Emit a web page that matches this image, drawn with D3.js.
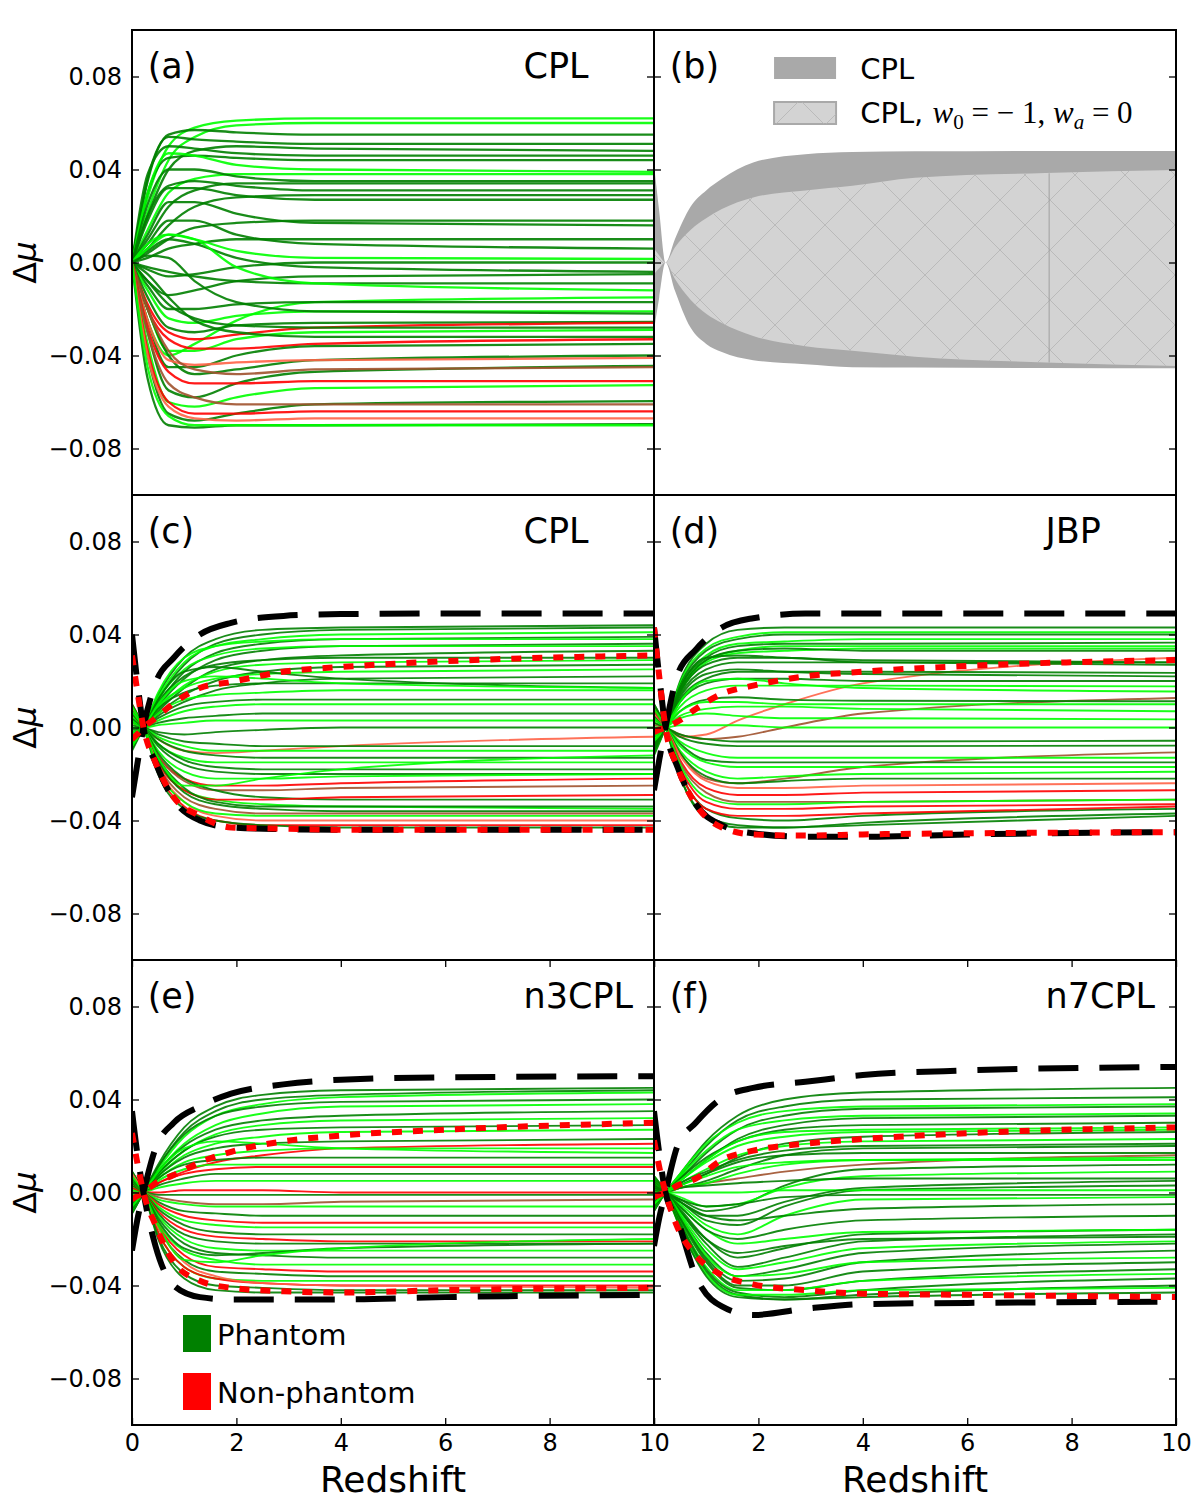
<!DOCTYPE html>
<meta charset="utf-8">
<style>
    body { margin: 0; background: #fff; }
    svg { font-family: "DejaVu Sans", sans-serif; }
</style>
<body>
<script src="https://cdn.jsdelivr.net/npm/d3@7/dist/d3.min.js"></script>
<script>

// ---- data (delta mu in units of 1e-3) ----
var xTicks = [0, 2, 4, 6, 8, 10];
var yTicks = [-0.08, -0.04, 0, 0.04, 0.08];
var panelLetters = ["(a)", "(b)", "(c)", "(d)", "(e)", "(f)"];
var panelTitles = ["CPL", "", "CPL", "JBP", "n3CPL", "n7CPL"];

// panel (a): redshift samples for every curve
var zGridA = [0, 0.3, 0.7, 1.2, 2, 3.5, 10];
var curvesA = [
    ["l",[0,28,50,58,61,62,62]], ["l",[0,22,44,54,59,60,60]], ["g",[0,35,55,57,56,55,55]],
    ["g",[0,36,54,53,52,51,51]], ["g",[0,20,40,48,50,49,48]], ["g",[0,38,50,49,47,46,46]],
    ["g",[0,30,45,46,45,44,44]], ["l",[0,30,47,46,42,40,39]], ["l",[0,14,30,36,38,38,38]],
    ["g",[0,25,40,40,37,35,35]], ["g",[0,10,24,31,34,34,34]], ["g",[0,20,33,35,33,31,31]],
    ["g",[0,6,16,24,28,29,29]], ["g",[0,18,32,32,29,27,27]], ["g",[0,4,10,15,17,18,18]],
    ["g",[0,12,26,26,21,17,16]], ["g",[0,2,6,8,10,10,10]], ["g",[0,8,18,18,12,8,6]],
    ["l",[0,8,12,10,5,2,1.5]], ["g",[0,-3,-6,-5,-2,0,0]], ["g",[0,5,10,8,2,-2,-4]],
    ["g",[0,-8,-14,-12,-8,-6,-5]], ["g",[0,-2,-4,-6,-8,-9,-9]], ["l",[0,6,12,10,-2,-9,-12]],
    ["l",[0,-25,-40,-35,-25,-17,-15]], ["g",[0,-10,-20,-20,-18,-17,-17]], ["l",[0,-12,-24,-26,-23,-21,-21]],
    ["g",[0,3,2,-8,-17,-21,-22]], ["g",[0,-15,-28,-30,-27,-26,-25.5]], ["r",[0,-18,-30,-33,-31,-28,-26]],
    ["g",[0,-8,-18,-24,-27,-28,-28]], ["l",[0,-20,-38,-38,-33,-30,-29]], ["g",[0,-5,-15,-25,-30,-32,-32]],
    ["r",[0,-20,-33,-37,-37,-35,-33]], ["g",[0,-25,-45,-45,-40,-36,-35]], ["g",[0,-20,-40,-48,-46,-42,-40]],
    ["s",[0,-25,-42,-44,-43,-42,-41]], ["g",[0,-30,-55,-58,-52,-47,-44.5]], ["b",[0,-20,-38,-46,-48,-46,-45]],
    ["r",[0,-28,-47,-52,-52,-51,-51]], ["l",[0,-35,-60,-62,-58,-54,-52.7]], ["g",[0,-40,-65,-68,-65,-61,-59.6]],
    ["b",[0,-30,-52,-58,-61,-61,-61]], ["r",[0,-38,-60,-65,-65,-64,-64]], ["s",[0,-40,-62,-67,-68,-67,-67]],
    ["g",[0,-50,-70,-71,-70,-70,-69.5]], ["l",[0,-45,-66,-70,-70,-70,-70]]
];

// panel (b): bands
var zBand = [0, 0.1, 0.22, 0.4, 0.7, 1, 1.3, 1.9, 2.9, 3.8, 5, 7.5, 10];
var bandCplUp = [42, 22, 0, 10, 24, 31, 36, 43, 46.6, 47.5, 47.8, 48, 48];
var bandCplLow = [-29, -15, 0, -12, -28, -35, -38.5, -42, -43.8, -45, -45.2, -45.4, -45.5];
var bandLcdmUp = [6, 3, 0, 6.5, 14, 19, 23, 28, 31, 33, 36.5, 38.5, 39.8];
var bandLcdmLow = [-5, -2.5, 0, -7, -16, -22, -26, -31.6, -36, -38, -40.5, -43, -44.5];
var bandSeam = [7.57, 38.4, -43];

// panels (c)-(f): samples for the curves, and for the envelopes
var zGrid = [0, 0.22, 0.5, 1, 1.6, 2.5, 4, 10];
var zEnv = [0, 0.1, 0.22, 0.45, 0.8, 1.3, 1.9, 2.9, 4, 6, 10];

var curvesC = [
    ["g",[-10,0,14,30,38,42,43,44]], ["g",[-9,0,12,27,36,40,42,43]], ["l",[-8,0,13,28,35,38,40,41]],
    ["g",[-7,0,10,24,32,36,38,39]], ["l",[-8,0,15,30,35,37,38,38]], ["g",[-6,0,9,21,29,33,35,36]],
    ["l",[-7,0,12,25,31,34,35,35]], ["g",[-5,0,7,17,25,29,31,33]], ["g",[-6,0,11,22,27,29,30,30]],
    ["l",[-5,0,8,18,24,27,28,29]], ["g",[-4,0,6,14,20,24,26,27]], ["l",[-4,0,9,17,21,23,24,25]],
    ["g",[-3,0,5,11,16,19,21,22]], ["g",[-4,0,8,15,18,19,19,19]], ["l",[-3,0,6,12,14,15,16,16]],
    ["g",[-2,0,4,9,11,12,12,12]], ["l",[-2,0,3,7,9,10,10,10]], ["g",[-1,0,2,4,5,6,6,6]],
    ["l",[0,0,1,2,3,3,3,3]], ["g",[1,0,-2,-3,-2,-1,0,0]], ["s",[2,0,-5,-10,-11,-10,-8,-4]],
    ["g",[2,0,-3,-6,-7,-8,-8,-8]], ["l",[2,0,-4,-8,-10,-10,-10,-10]], ["g",[3,0,-5,-10,-12,-13,-13,-13]],
    ["l",[3,0,-7,-13,-15,-15,-15,-15]], ["g",[4,0,-7,-14,-17,-18,-18,-18]], ["g",[4,0,-8,-16,-19,-20,-20,-20]],
    ["l",[5,0,-10,-19,-22,-22,-21,-20]], ["r",[6,0,-12,-22,-25,-25,-24,-22]], ["b",[6,0,-12,-23,-27,-27,-26,-25]],
    ["g",[6,0,-11,-22,-27,-30,-31,-31]], ["l",[7,0,-14,-27,-31,-33,-34,-35]], ["r",[8,0,-15,-27,-31,-31,-30,-29]],
    ["g",[8,0,-14,-28,-33,-35,-36,-36]], ["b",[8,0,-16,-30,-35,-37,-37,-37]], ["s",[9,0,-17,-32,-38,-40,-40,-40]],
    ["r",[10,0,-19,-34,-40,-42,-42,-42]], ["g",[10,0,-20,-35,-40,-42,-43,-43]], ["l",[9,0,-18,-32,-37,-38,-38,-38]],
    ["g",[7,0,-13,-26,-32,-34,-34,-34]], ["l",[7,0,-13,-25,-25,-22,-18,-12]], ["g",[-6,0,12,24,26,24,21,17]],
    ["l",[-5,0,10,20,22,21,19,17]]
];
var curvesD = [
    ["g",[-12,0,20,36,42,43,43,43]], ["l",[-11,0,19,34,39,41,41,41]], ["g",[-11,0,18,33,38,40,40,40]],
    ["l",[-10,0,17,31,36,37,38,38]], ["g",[-10,0,17,30,35,36,36,36.5]], ["l",[-9,0,16,29,33,35,35,35]],
    ["l",[-9,0,15,28,32,33,34,34]], ["g",[-9,0,16,29,33,34,33,33]], ["s",[2,0,-4,-3,3,10,19,30]],
    ["g",[-8,0,14,25,28,28,28,28]], ["g",[-8,0,15,27,30,30,28,27]], ["g",[-7,0,12,21,24,24,24,23.5]],
    ["g",[-7,0,13,23,25,24,23,22]], ["g",[-6,0,11,19,21,21,20,20]], ["l",[-5,0,9,16,18,18,18,17.7]],
    ["l",[-6,0,11,20,21,19,17,15.5]], ["b",[1,0,-3,-5,-4,0,6,12.7]], ["g",[-4,0,7,12,13,12,11.5,11.3]],
    ["l",[-4,0,7,11,11,10,10,10]], ["l",[-2,0,4,6,5,4,4,3.5]], ["l",[0,0,1,1,1,0,0,0]],
    ["g",[2,0,-3,-5,-6,-6,-6,-5.7]], ["g",[2,0,-4,-7,-8,-8,-8,-7.8]], ["b",[5,0,-11,-22,-24,-22,-17,-10.7]],
    ["l",[3,0,-6,-11,-13,-13,-13,-13]], ["g",[4,0,-7,-14,-15,-15,-15,-15]], ["l",[4,0,-8,-15,-17,-17,-17,-17]],
    ["l",[5,0,-10,-19,-22,-21,-20,-19]], ["g",[5,0,-11,-21,-24,-23,-22,-22]], ["s",[6,0,-12,-23,-26,-26,-25,-24]],
    ["r",[7,0,-14,-26,-29,-29,-28,-27]], ["b",[7,0,-15,-28,-32,-32,-32,-31]], ["r",[8,0,-17,-32,-35,-35,-34,-33]],
    ["g",[9,0,-19,-35,-39,-40,-38,-35]], ["r",[9,0,-19,-35,-38,-38,-37,-34]], ["g",[10,0,-21,-38,-42,-43,-41,-37]],
    ["g",[10,0,-21,-39,-43,-43,-42,-38]], ["l",[8,0,-16,-30,-33,-33,-32,-31]], ["g",[-10,0,17,30,31,30,29,28]],
    ["l",[-3,0,5,8,9,9,8,7]]
];
var curvesE = [
    ["g",[-9,0,12,28,37,42,44,45]], ["g",[-9,0,11,26,35,40,42,44]], ["l",[-8,0,10,24,33,38,41,43]],
    ["g",[-8,0,11,25,33,37,39,40]], ["l",[-7,0,9,21,29,34,37,38]], ["g",[-7,0,9,20,27,31,33,35]],
    ["l",[-6,0,8,18,25,29,31,32]], ["g",[-6,0,8,18,24,27,28,29]], ["l",[-5,0,7,16,21,24,26,27]],
    ["r",[-3,0,4,9,13,16,19,21]], ["g",[-5,0,7,15,19,21,22,23]], ["l",[-4,0,6,13,16,18,19,19]],
    ["g",[-4,0,6,12,14,15,15,15]], ["r",[-2,0,4,8,10,11,11,11]], ["l",[-3,0,5,10,12,12,12,12]],
    ["g",[-2,0,3,6,8,8,8,8]], ["l",[-1,0,2,4,5,5,5,5]], ["r",[0,0,0,1,1,1,0,0]],
    ["g",[0,0,-1,-1,-1,-1,-1,-1]], ["b",[1,0,-2,-4,-5,-5,-4,-3]], ["l",[1,0,-3,-5,-6,-6,-6,-6]],
    ["g",[2,0,-4,-8,-9,-10,-10,-10]], ["r",[2,0,-5,-10,-12,-13,-13,-13]], ["l",[3,0,-6,-12,-14,-15,-15,-15]],
    ["g",[3,0,-7,-14,-17,-18,-18,-18]], ["r",[4,0,-8,-16,-19,-20,-21,-21]], ["g",[4,0,-9,-18,-21,-22,-22,-22]],
    ["l",[5,0,-10,-20,-24,-25,-25,-25]], ["g",[5,0,-11,-22,-26,-27,-28,-28]], ["l",[6,0,-13,-25,-29,-31,-31,-31]],
    ["r",[7,0,-14,-27,-32,-33,-34,-34]], ["g",[7,0,-15,-29,-34,-35,-36,-36]], ["l",[8,0,-17,-32,-37,-38,-38,-38]],
    ["r",[8,0,-17,-32,-37,-39,-40,-40]], ["g",[9,0,-19,-35,-40,-41,-42,-42]], ["g",[9,0,-20,-37,-42,-43,-43,-43]],
    ["s",[8,0,-15,-30,-36,-39,-40,-41]], ["l",[-6,0,9,19,22,21,19,17]], ["g",[6,0,-12,-24,-27,-26,-24,-22]],
    ["l",[7,0,-14,-29,-30,-27,-24,-20]]
];
var curvesF = [
    ["g",[-8,0,8,22,33,40,43,45]], ["g",[-8,0,7,20,31,37,40,41]], ["l",[-7,0,8,21,30,35,37,38]],
    ["g",[-7,0,6,17,27,33,36,37]], ["l",[-6,0,7,18,27,31,33,34]], ["g",[-6,0,5,14,23,29,32,33]],
    ["g",[-5,0,6,15,22,27,29,30]], ["l",[-5,0,5,13,20,24,26,27]], ["g",[-4,0,3,8,15,21,24,26]],
    ["b",[0,0,2,4,6,9,12,16]], ["l",[-4,0,4,10,16,20,22,23]], ["g",[-3,0,2,5,10,16,19,20]],
    ["g",[-3,0,3,8,13,16,17,17]], ["l",[-2,0,2,4,8,12,14,15]], ["g",[1,0,-3,-8,-6,3,10,12]],
    ["l",[1,0,-2,-6,-5,2,7,9]], ["g",[-2,0,2,3,4,5,6,6]], ["g",[2,0,-4,-12,-14,-6,1,3]],
    ["l",[0,0,0,0,0,1,1,1]], ["g",[1,0,-3,-6,-5,-2,-1,-1]], ["l",[2,0,-5,-14,-18,-10,-3,-2]],
    ["g",[2,0,-4,-10,-12,-10,-7,-5]], ["g",[3,0,-7,-20,-28,-24,-18,-16]], ["l",[3,0,-6,-16,-22,-20,-17,-16]],
    ["g",[3,0,-8,-22,-32,-28,-21,-18]], ["g",[4,0,-8,-20,-26,-23,-20,-19]], ["l",[4,0,-9,-24,-33,-30,-24,-21]],
    ["g",[4,0,-10,-26,-36,-33,-26,-22]], ["g",[5,0,-11,-28,-38,-37,-30,-25]], ["l",[5,0,-10,-27,-36,-35,-30,-28]],
    ["g",[5,0,-11,-29,-40,-40,-34,-30]], ["g",[6,0,-12,-30,-41,-42,-38,-33]], ["l",[6,0,-13,-32,-42,-42,-38,-35]],
    ["g",[6,0,-13,-33,-43,-45,-42,-37]], ["g",[7,0,-14,-34,-44,-46,-44,-40]], ["l",[7,0,-15,-35,-44,-44,-42,-41]],
    ["g",[7,0,-15,-36,-45,-46,-45,-43]], ["g",[-4,0,4,9,14,18,20,21]], ["l",[-3,0,3,7,11,13,14,14]],
    ["g",[2,0,-4,-10,-10,-4,2,5]], ["g",[3,0,-6,-16,-20,-16,-12,-10]], ["l",[-5,0,5,14,22,26,27,28]]
];

// envelopes: black dashed (upper, lower), red dotted (upper, lower)
var blackUpC = [-30,-16,0,19,30,40,45,48,48.8,49,49];
var blackLowC = [40,20,0,-15,-31,-40,-43,-43.7,-44,-44,-44];
var redUpC = [-5,-3,0,4,10.5,17,19.6,24,26,28.5,31];
var redLowC = [31,16,0,-15,-30,-38,-43,-43.5,-44,-44,-44];

var blackUpD = [-27,-14,0,22.6,33.5,43,47,49,49,49,49];
var blackLowD = [43,22,0,-17,-33,-42,-45.5,-47,-47,-46,-45];
var redUpD = [-2,-1,0,2.5,8,14.5,18,22,24,26.5,29];
var redLowD = [43,22,0,-17,-33,-43,-46,-46.5,-46,-45.5,-45];

var blackUpE = [-25,-12,0,19,30,37,42.5,46.5,48.5,49.5,50];
var blackLowE = [35,17,0,-23,-40,-45,-46,-46,-46,-45,-44];
var redUpE = [-3,-1.5,0,4,7.5,13,17.5,22,24.5,27,30];
var redLowE = [25.6,13,0,-14,-30,-38,-41,-42.5,-43,-42,-41];

var blackUpF = [-23,-11,0,20,30,40.6,45,47.6,50.5,52.5,54];
var blackLowF = [35,17,0,-12,-36,-49,-52.7,-50,-48,-47.5,-47];
var redUpF = [-2,-1,0,3,6,14,18,21,23,25.5,28];
var redLowF = [22.5,11,0,-15,-27,-35.5,-39.5,-42,-43.5,-44,-45];

var legendB = ["CPL", "CPL, "];
var legendE = ["Phantom", "Non-phantom"];

// ---- layout ----
var width = 1200, height = 1500;
var colX = [132, 654], rowY = [30, 495, 960];
var pw = 522, ph = 465;

var palette = {g: "#008000", l: "#00ff00", r: "#ff0000", s: "#ff6347", b: "#a0522d"};

var svg = d3.select("body").append("svg")
    .attr("width", width)
    .attr("height", height);

var defs = svg.append("defs");
var hatch = defs.append("pattern")
    .attr("id", "hatch")
    .attr("patternUnits", "userSpaceOnUse")
    .attr("width", 50).attr("height", 50);
hatch.append("path")
    .attr("d", "M0,0L50,50M50,0L0,50M-5,45L5,55M45,-5L55,5")
    .attr("stroke", "#b4b4b4")
    .attr("stroke-width", 0.8)
    .attr("fill", "none");

var panels = [
    {col: 0, row: 0, curves: curvesA, grid: zGridA},
    {col: 1, row: 0, band: true},
    {col: 0, row: 1, curves: curvesC, grid: zGrid, env: [blackUpC, blackLowC, redUpC, redLowC]},
    {col: 1, row: 1, curves: curvesD, grid: zGrid, env: [blackUpD, blackLowD, redUpD, redLowD]},
    {col: 0, row: 2, curves: curvesE, grid: zGrid, env: [blackUpE, blackLowE, redUpE, redLowE]},
    {col: 1, row: 2, curves: curvesF, grid: zGrid, env: [blackUpF, blackLowF, redUpF, redLowF]}
];

panels.forEach(function(p, i) {
    var x0 = colX[p.col], y0 = rowY[p.row];
    var x = d3.scaleLinear().domain([0, 10]).range([x0, x0 + pw]);
    var y = d3.scaleLinear().domain([-0.1, 0.1]).range([y0 + ph, y0]);

    defs.append("clipPath").attr("id", "clip" + i)
        .append("rect").attr("x", x0).attr("y", y0).attr("width", pw).attr("height", ph);

    var g = svg.append("g").attr("clip-path", "url(#clip" + i + ")");

    function lineOn(zs) {
        return d3.line()
            .x(function(d, k) { return x(zs[k]); })
            .y(function(d) { return y(d / 1000); })
            .curve(d3.curveMonotoneX);
    }

    if (p.band) {
        var area = function(up, low) {
            return d3.area()
                .x(function(d, k) { return x(zBand[k]); })
                .y0(function(d, k) { return y(low[k] / 1000); })
                .y1(function(d, k) { return y(up[k] / 1000); })
                .curve(d3.curveMonotoneX)(zBand);
        };
        g.append("path").attr("d", area(bandCplUp, bandCplLow)).attr("fill", "#a9a9a9");
        g.append("path").attr("d", area(bandLcdmUp, bandLcdmLow)).attr("fill", "#d3d3d3");
        g.append("path").attr("d", area(bandLcdmUp, bandLcdmLow)).attr("fill", "url(#hatch)");
        g.append("line")
            .attr("x1", x(bandSeam[0])).attr("x2", x(bandSeam[0]))
            .attr("y1", y(bandSeam[1] / 1000)).attr("y2", y(bandSeam[2] / 1000))
            .attr("stroke", "#a0a0a0").attr("stroke-width", 1);
    } else {
        var ln = lineOn(p.grid);
        g.selectAll("path.curve")
            .data(p.curves)
            .enter()
            .append("path")
            .attr("class", "curve")
            .attr("d", function(d) { return ln(d[1]); })
            .attr("fill", "none")
            .attr("stroke", function(d) { return palette[d[0]]; })
            .attr("stroke-opacity", 0.9)
            .attr("stroke-width", i == 0 ? 2.3 : 1.9);

        if (p.env) {
            var le = lineOn(zEnv);
            [p.env[0], p.env[1]].forEach(function(v) {
                g.append("path").attr("d", le(v))
                    .attr("fill", "none").attr("stroke", "#000")
                    .attr("stroke-width", 6).attr("stroke-dasharray", "40,21");
            });
            [p.env[2], p.env[3]].forEach(function(v) {
                g.append("path").attr("d", le(v))
                    .attr("fill", "none").attr("stroke", "#ff0000")
                    .attr("stroke-width", 6).attr("stroke-dasharray", "10,11");
            });
        }
    }

    // axes, ticks pointing inwards on every side
    var yl = svg.append("g").attr("transform", "translate(" + x0 + ",0)")
        .call(d3.axisLeft(y).tickValues(yTicks).tickSize(-7).tickPadding(10)
            .tickFormat(p.col == 0 ? d3.format(".2f") : function() { return ""; }));
    var yr = svg.append("g").attr("transform", "translate(" + (x0 + pw) + ",0)")
        .call(d3.axisRight(y).tickValues(yTicks).tickSize(-7).tickFormat(function() { return ""; }));
    [yl, yr].forEach(function(a) {
        a.select(".domain").remove();
        a.selectAll("line").attr("stroke-width", 1.3);
        a.selectAll("text").attr("font-size", 24).attr("font-family", "DejaVu Sans").attr("fill", "#000");
    });

    if (p.row == 2) {
        var xb = svg.append("g").attr("transform", "translate(0," + (y0 + ph) + ")")
            .call(d3.axisBottom(x).tickValues(xTicks).tickSize(-7).tickPadding(9)
                .tickFormat(function(d) { return (p.col == 1 && d == 0) ? "" : d; }));
        var xt = svg.append("g").attr("transform", "translate(0," + y0 + ")")
            .call(d3.axisTop(x).tickValues(xTicks).tickSize(-7).tickFormat(function() { return ""; }));
        [xb, xt].forEach(function(a) {
            a.select(".domain").remove();
            a.selectAll("line").attr("stroke-width", 1.3);
            a.selectAll("text").attr("font-size", 24).attr("font-family", "DejaVu Sans").attr("fill", "#000");
        });
        svg.append("text")
            .attr("x", x0 + pw / 2).attr("y", 1492)
            .attr("text-anchor", "middle")
            .attr("font-size", 36)
            .text("Redshift");
    }

    // frame
    svg.append("rect")
        .attr("x", x0).attr("y", y0).attr("width", pw).attr("height", ph)
        .attr("fill", "none").attr("stroke", "#000").attr("stroke-width", 2);

    svg.append("text")
        .attr("x", x(0.3)).attr("y", y0 + 48)
        .attr("font-size", 35)
        .text(panelLetters[i]);
    if (panelTitles[i]) {
        svg.append("text")
            .attr("x", x(7.5)).attr("y", y0 + 48)
            .attr("font-size", 35)
            .text(panelTitles[i]);
    }

    if (p.col == 0) {
        var lab = svg.append("text")
            .attr("transform", "translate(36," + (y0 + ph / 2) + ") rotate(-90)")
            .attr("text-anchor", "middle")
            .attr("font-size", 32);
        lab.append("tspan").text("Δ");
        lab.append("tspan").attr("font-style", "italic").text("μ");
    }

    if (i == 1) {
        var lg = svg.append("g");
        lg.append("rect").attr("x", x(2.3)).attr("y", y0 + 27).attr("width", 62).attr("height", 22)
            .attr("fill", "#a9a9a9");
        lg.append("rect").attr("x", x(2.3)).attr("y", y0 + 72).attr("width", 62).attr("height", 22)
            .attr("fill", "#d3d3d3").attr("stroke", "#a9a9a9").attr("stroke-width", 2);
        lg.append("rect").attr("x", x(2.3)).attr("y", y0 + 72).attr("width", 62).attr("height", 22)
            .attr("fill", "url(#hatch)");
        lg.append("text").attr("x", x(3.95)).attr("y", y0 + 49).attr("font-size", 29).text(legendB[0]);
        var t2 = lg.append("text").attr("x", x(3.95)).attr("y", y0 + 93).attr("font-size", 29);
        t2.append("tspan").text(legendB[1]);
        var mf = "Liberation Serif, serif";
        t2.append("tspan").attr("font-family", mf).attr("font-style", "italic").attr("font-size", 31).text("w");
        t2.append("tspan").attr("font-family", mf).attr("font-size", 21).attr("dy", 6).text("0");
        t2.append("tspan").attr("font-family", mf).attr("font-size", 31).attr("dy", -6).text(" = \u2212 1, ");
        t2.append("tspan").attr("font-family", mf).attr("font-style", "italic").attr("font-size", 31).text("w");
        t2.append("tspan").attr("font-family", mf).attr("font-size", 21).attr("font-style", "italic").attr("dy", 6).text("a");
        t2.append("tspan").attr("font-family", mf).attr("font-size", 31).attr("dy", -6).text(" = 0");
    }

    if (i == 4) {
        var le2 = svg.append("g");
        [["#008000", legendE[0]], ["#ff0000", legendE[1]]].forEach(function(e, k) {
            le2.append("rect").attr("x", 183).attr("y", 1315 + k * 58).attr("width", 28).attr("height", 37)
                .attr("fill", e[0]);
            le2.append("text").attr("x", 217).attr("y", 1345 + k * 58).attr("font-size", 29).text(e[1]);
        });
    }
});
</script>
